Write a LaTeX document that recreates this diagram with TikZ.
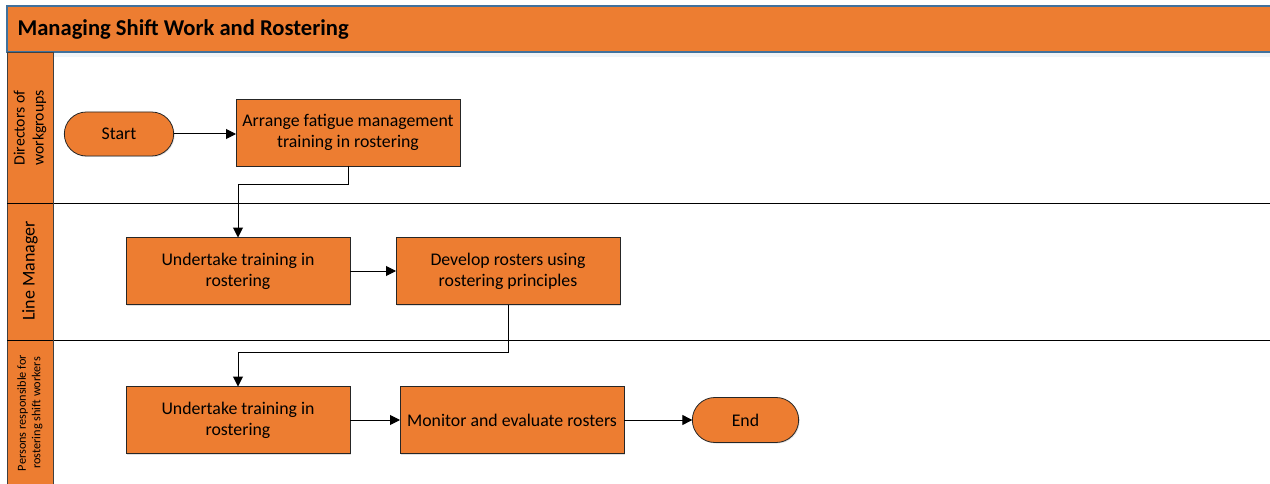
\documentclass[tikz,border=0pt]{standalone}
\usepackage{fontspec}
\setmainfont{Carlito}
\usetikzlibrary{arrows.meta,shapes.misc,shadows}
\definecolor{orng}{HTML}{ED7D31}
\definecolor{bordblue}{HTML}{41719C}
\definecolor{lanegray}{HTML}{404040}
\begin{document}
\begin{tikzpicture}[x=1pt,y=-1pt,
  procbox/.style={draw=black!85,line width=0.8pt,fill=orng,minimum width=224pt,minimum height=67pt,
    align=center,font=\fontsize{17.8}{21}\selectfont,inner sep=2pt,outer sep=0pt,
    drop shadow={opacity=0.25,shadow xshift=1pt,shadow yshift=-1pt}},
  termbox/.style={draw=black!85,line width=0.8pt,fill=orng,rounded rectangle,minimum width=116pt,minimum height=44pt,
    font=\fontsize{17.8}{21}\selectfont,outer sep=0pt,
    drop shadow={opacity=0.25,shadow xshift=1pt,shadow yshift=-1pt}},
  flow/.style={-{Triangle[length=10pt,width=10pt]},line width=1pt,black},
  lanehead/.style={fill=orng,draw=lanegray,line width=0.6pt},
  lanetext/.style={rotate=90,align=center,text=black}
]
\useasboundingbox (0,0) rectangle (1270,484);
\fill[white] (0,0) rectangle (1270,484);
% title bar
\fill[bordblue!8] (7,52) rectangle (1270,57);
\path[fill=orng] (7,6) rectangle (1270,52);
\draw[bordblue,line width=1.2pt] (1270,6) -- (7,6) -- (7,52) -- (1270,52);
\node[anchor=west,font=\fontsize{22.6}{26}\selectfont\bfseries] (title) at (14,29.5) {Managing Shift Work and Rostering};
% lane headers
\path[lanehead] (7,52) rectangle (53,203);
\path[lanehead] (7,203) rectangle (53,340);
\path[lanehead] (7,340) rectangle (53,490);
\draw[black,line width=0.9pt] (7,203) -- (1270,203);
\draw[black,line width=0.9pt] (7,340) -- (1270,340);
\draw[lanegray,line width=0.6pt] (53,52) -- (53,484);
\node[lanetext,font=\fontsize{15.8}{19}\selectfont] (l1) at (30,128) {Directors of\\workgroups};
\node[lanetext,font=\fontsize{18}{21}\selectfont] (l2) at (30,271) {Line Manager};
\node[lanetext,font=\fontsize{12.3}{14.5}\selectfont] (l3) at (30,413) {Persons responsible for\\rostering shift workers};
% nodes
\node[termbox] (start) at (119,134) {Start};
\node[procbox] (arrange) at (348,132.5) {Arrange fatigue management\\training in rostering};
\node[procbox] (ut1) at (238,271) {Undertake training in\\rostering};
\node[procbox] (dev) at (508,271) {Develop rosters using\\rostering principles};
\node[procbox] (ut2) at (238,420) {Undertake training in\\rostering};
\node[procbox] (mon) at (512,420) {Monitor and evaluate rosters};
\node[termbox,minimum width=113pt,minimum height=45pt] (end) at (745.5,420) {End};
% connectors
\draw[flow] (start.east) -- (start.east -| arrange.west);
\draw[flow] (arrange.south) |- (238,185) -- (ut1.north);
\draw[flow] (ut1.east) -- (dev.west);
\draw[flow] (dev.south) |- (238,352) -- (ut2.north);
\draw[flow] (ut2.east) -- (mon.west);
\draw[flow] (mon.east) -- (end.west);
\end{tikzpicture}
\end{document}
